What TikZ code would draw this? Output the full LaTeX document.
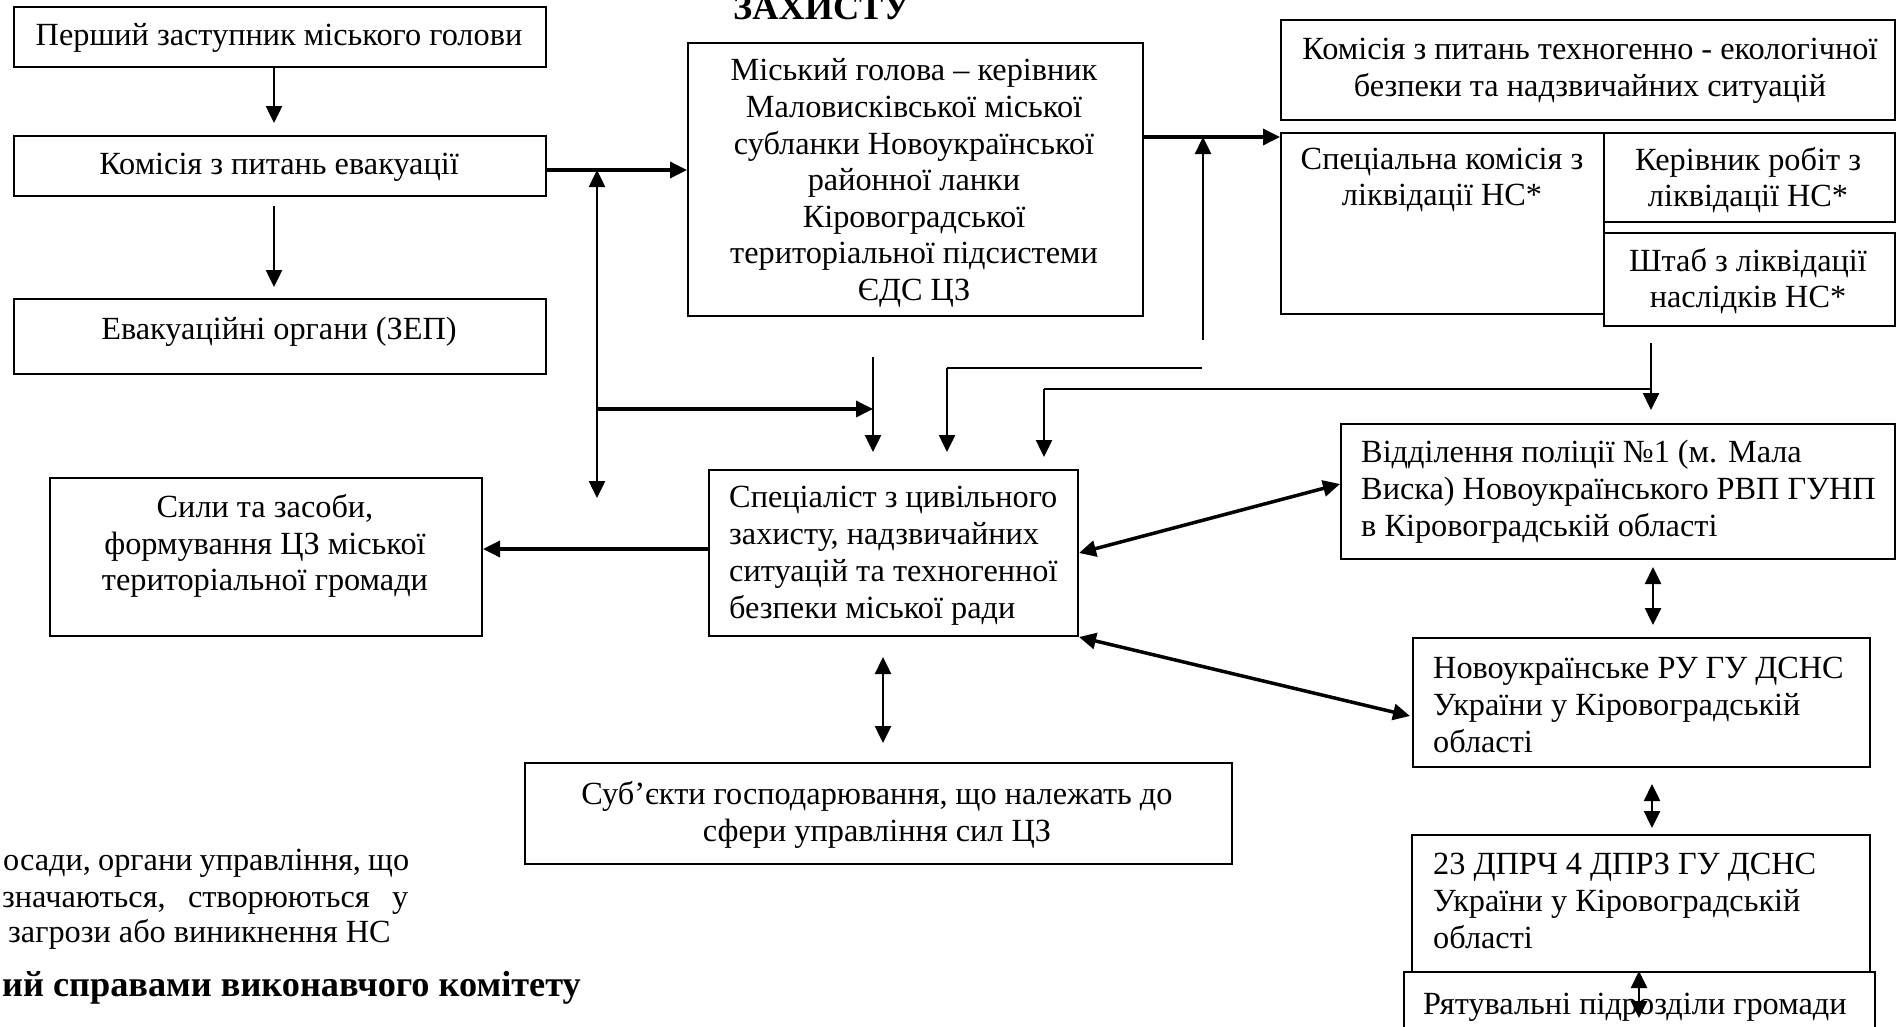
\documentclass[tikz,border=0pt]{standalone}
\usepackage{fontspec}
\setmainfont{Liberation Serif}
\usetikzlibrary{arrows.meta,calc}
\begin{document}
\begin{tikzpicture}[x=1pt,y=-1pt,
  box/.style={draw, line width=2pt, inner sep=0pt, anchor=north west},
  txt/.style={inner sep=0pt, align=center, font=\fontsize{32.3}{36.6}\selectfont},
  ltxt/.style={inner sep=0pt, align=left, anchor=west, font=\fontsize{32.3}{37}\selectfont},
  btxt/.style={inner sep=0pt, anchor=base west, font=\fontsize{36.3}{40}\selectfont\bfseries},
  ntxt/.style={inner sep=0pt, anchor=base west, font=\fontsize{32.3}{36.6}\selectfont},
  tipA/.tip={Triangle[length=17pt,width=16pt]},
  arr/.style={line width=2.5pt, -tipA},
  arrb/.style={line width=2.5pt, tipA-tipA},
  thick arr/.style={line width=3.5pt, -tipA},
  thick arrb/.style={line width=3.5pt, tipA-tipA},
  thin line/.style={line width=1.8pt}]
\useasboundingbox (0,0) rectangle (1896,1026);
\clip (0,0) rectangle (1896,1026);
\fill[white] (0,0) rectangle (1896,1026);

% boxes
\node[box, minimum width=532pt, minimum height=60pt] (A) at (13,6) {};
\node[box, minimum width=532pt, minimum height=60pt] (B) at (13,135) {};
\node[box, minimum width=532pt, minimum height=75pt] (C) at (13,298) {};
\node[box, minimum width=455pt, minimum height=273pt] (M) at (687,42) {};
\node[box, minimum width=614pt, minimum height=100pt] (K) at (1280,19) {};
\node[box, minimum width=323pt, minimum height=181pt] (SK) at (1280,132) {};
\node[box, minimum width=291pt, minimum height=89pt] (KR) at (1603,132) {};
\node[box, minimum width=291pt, minimum height=93pt] (SH) at (1603,232) {};
\node[box, minimum width=432pt, minimum height=158pt] (S) at (49,477) {};
\node[box, minimum width=369pt, minimum height=166pt] (SP) at (708,469) {};
\node[box, minimum width=554pt, minimum height=135pt] (P) at (1340,423) {};
\node[box, minimum width=457pt, minimum height=129pt] (N) at (1412,637) {};
\node[box, minimum width=458pt, minimum height=137pt] (D) at (1411,834) {};
\node[box, minimum width=471pt, minimum height=80pt] (R) at (1403,971) {};
\node[box, minimum width=707pt, minimum height=101pt] (SB) at (524,762) {};

% texts
\node[txt] (At) at (279,38) {Перший заступник міського голови};
\node[txt] (Bt) at (279,167) {Комісія з питань евакуації};
\node[txt] (Ct) at (279,332) {Евакуаційні органи (ЗЕП)};
\node[txt] (Mt) at (914,183) {Міський голова – керівник\\Маловисківської міської\\субланки Новоукраїнської\\районної ланки\\Кіровоградської\\територіальної підсистеми\\ЄДС ЦЗ};
\node[txt] (Kt) at (1590,71) {Комісія з питань техногенно - екологічної\\безпеки та надзвичайних ситуацій};
\node[txt] (SKt) at (1442,180) {Спеціальна комісія з\\ліквідації НС*};
\node[txt] (KRt) at (1748,180) {Керівник робіт з\\ліквідації НС*};
\node[txt] (SHt) at (1748,281) {Штаб з ліквідації\\наслідків НС*};
\node[txt] (St) at (265,546) {Сили та засоби,\\формування ЦЗ міської\\територіальної громади};
\node[ltxt] (SPt) at (729,556) {Спеціаліст з цивільного\\захисту, надзвичайних\\ситуацій та техногенної\\безпеки міської ради};
\node[ltxt] (Pt) at (1361,492) {Відділення поліції №1 (м. Мала\\Виска) Новоукраїнського РВП ГУНП\\в Кіровоградській області};
\node[ltxt] (Nt) at (1433,705) {Новоукраїнське РУ ГУ ДСНС\\України у Кіровоградській\\області};
\node[ltxt] (Dt) at (1433,901) {23 ДПРЧ 4 ДПРЗ ГУ ДСНС\\України у Кіровоградській\\області};
\node[ntxt] (Rt) at (1423,1014) {Рятувальні підрозділи громади};
\node[txt] (SBt) at (877,815) {Суб’єкти господарювання, що належать до\\сфери управління сил ЦЗ};

\node[btxt] (title) at (733,19) {ЗАХИСТУ};
\node[ntxt] (n1) at (3,870) {\makebox[406pt][s]{осади, органи управління, що}};
\node[ntxt] (n2) at (2,907) {\makebox[406pt][s]{значаються,\hfill створюються\hfill у}};
\node[ntxt] (n3) at (8,942) {загрози або виникнення НС};
\node[btxt] (n4) at (2,996) {ий справами виконавчого комітету};

% connector coordinates
\coordinate (j1) at (597,170);
\coordinate (j1b) at (597,498);
\coordinate (j2) at (597,409);
\coordinate (v1) at (873,357);
\coordinate (r1) at (1142,137);
\coordinate (u1) at (1203,340);
\coordinate (h1) at (1202,368);
\coordinate (h1c) at (947,368);
\coordinate (w1) at (1651,343);
\coordinate (w1j) at (1651,389);
\coordinate (w1c) at (1044,389);

% left column
\draw[arr, shorten >=12pt] ([xshift=-6pt]A.south) -- ([xshift=-6pt]B.north);
\draw[arr, shorten <=9pt, shorten >=11pt] ([xshift=-6pt]B.south) -- ([xshift=-6pt]C.north);
\draw[thick arr] (B.east |- j1) -- (M.west |- j1);
\draw[arrb] (j1) -- (j1b);
\draw[thick arr] (j2) -- (v1 |- j2);
\draw[arr, shorten >=17pt] (v1) -- (v1 |- SP.north);

% right of main box
\draw[thick arr] (M.east |- r1) -- (SK.west |- r1);
\draw[arr] (u1) -- (u1 |- r1);
\draw[thin line] (h1) -- (h1c);
\draw[arr, shorten >=17pt] (h1c) -- (h1c |- SP.north);
\draw[arr, shorten >=13pt] (w1) -- (w1 |- P.north);
\draw[thin line] (w1j) -- (w1c);
\draw[arr, shorten >=12pt] (w1c) -- (w1c |- SP.north);

% specialist links
\draw[thick arr] ([yshift=4pt]SP.west) -- ([yshift=4pt]SP.west -| S.east);
\draw[thick arrb] (SP.east) -- ([yshift=7.5pt]P.west);
\draw[thick arrb] (SP.south east) -- ([yshift=-13.5pt, xshift=-2pt]N.west);
\draw[arrb, shorten <=20pt, shorten >=19pt] ([xshift=-10.5pt]SP.south) -- ([xshift=-10.5pt]SP.south |- SB.north);

% right column
\draw[arrb, shorten <=9pt, shorten >=12pt] (1653,558) coordinate (pb) -- (pb |- N.north);
\draw[arrb, shorten <=18pt, shorten >=6pt] (1652,766) coordinate (nb) -- (nb |- D.north);
\draw[arrb] (1639,971) coordinate (db) -- (1639,1018) coordinate (dr);
\end{tikzpicture}
\end{document}
